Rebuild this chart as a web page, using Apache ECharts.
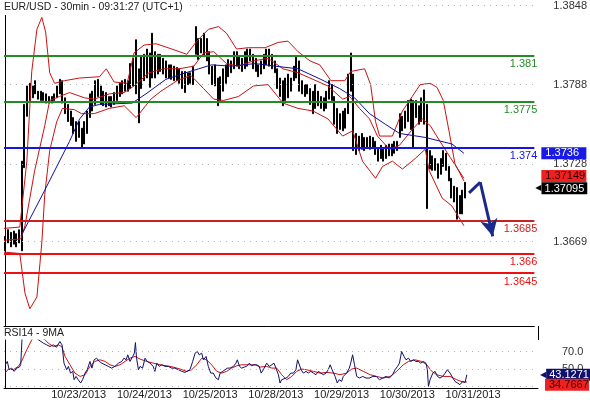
<!DOCTYPE html>
<html>
<head>
<meta charset="utf-8">
<title>EUR/USD 30min</title>
<script src="https://cdn.jsdelivr.net/npm/echarts@6.0.0/dist/echarts.min.js"></script>
<style>
    html, body { margin: 0; padding: 0; background: #fff; }
    #chart { width: 590px; height: 400px; }
</style>
</head>
<body>
<div id="chart"></div>
<script>
    // trading days on the time axis (weekend is skipped), first bar at 08:00
    var tradingDays = ['10/22/2013', '10/23/2013', '10/24/2013', '10/25/2013', '10/28/2013', '10/29/2013', '10/30/2013', '10/31/2013', '11/01/2013'];
    var firstHour = 8;
    var slotCount = 195;

    // price bars (high / low), one per hour
    var barHigh = [
        1.3673, 1.3678, 1.3676, 1.3677, 1.3675, 1.3678, 1.3730, 1.3773, 1.3787, 1.3789,
        1.3787, 1.3791, 1.3783, 1.3783, 1.3782, 1.3781, 1.3779, 1.3779, 1.3781, 1.3787,
        1.3792, 1.3791, 1.3778, 1.3773, 1.3768, 1.3763, 1.3760, 1.3760, 1.3755, 1.3760,
        1.3768, 1.3781, 1.3783, 1.3791, 1.3792, 1.3787, 1.3783, 1.3782, 1.3779, 1.3779,
        1.3782, 1.3787, 1.3789, 1.3791, 1.3792, 1.3791, 1.3804, 1.3808, 1.3822, 1.3800,
        1.3810, 1.3811, 1.3815, 1.3812, 1.3827, 1.3813, 1.3811, 1.3811, 1.3808, 1.3806,
        1.3803, 1.3803, 1.3802, 1.3801, 1.3800, 1.3798, 1.3798, 1.3797, 1.3797, 1.3802,
        1.3832, 1.3823, 1.3823, 1.3827, 1.3823, 1.3813, 1.3802, 1.3803, 1.3793, 1.3794,
        1.3800, 1.3803, 1.3807, 1.3806, 1.3813, 1.3813, 1.3810, 1.3808, 1.3813, 1.3815,
        1.3815, 1.3811, 1.3808, 1.3803, 1.3806, 1.3811, 1.3815, 1.3815, 1.3811, 1.3806,
        1.3800, 1.3793, 1.3791, 1.3793, 1.3796, 1.3793, 1.3802, 1.3810, 1.3806, 1.3791,
        1.3788, 1.3788, 1.3785, 1.3783, 1.3788, 1.3783, 1.3779, 1.3778, 1.3783, 1.3791,
        1.3788, 1.3779, 1.3770, 1.3766, 1.3768, 1.3770, 1.3796, 1.3812, 1.3796, 1.3751,
        1.3749, 1.3751, 1.3748, 1.3748, 1.3749, 1.3748, 1.3745, 1.3740, 1.3742, 1.3740,
        1.3742, 1.3743, 1.3743, 1.3745, 1.3745, 1.3766, 1.3764, 1.3768, 1.3776, 1.3777,
        1.3776, 1.3776, 1.3772, 1.3778, 1.3784, 1.3773, 1.3738, 1.3734, 1.3732, 1.3728,
        1.3732, 1.3738, 1.3736, 1.3726, 1.3717, 1.3711, 1.3710, 1.3704, 1.3708, 1.3714
    ];
    var barLow = [
        1.3662, 1.3668, 1.3665, 1.3667, 1.3665, 1.3668, 1.3662, 1.3725, 1.3764, 1.3776,
        1.3778, 1.3781, 1.3777, 1.3776, 1.3776, 1.3774, 1.3774, 1.3774, 1.3776, 1.3778,
        1.3781, 1.3774, 1.3766, 1.3760, 1.3757, 1.3751, 1.3745, 1.3748, 1.3740, 1.3743,
        1.3751, 1.3763, 1.3768, 1.3773, 1.3779, 1.3773, 1.3772, 1.3771, 1.3772, 1.3771,
        1.3773, 1.3776, 1.3779, 1.3781, 1.3783, 1.3783, 1.3785, 1.3787, 1.3781, 1.3759,
        1.3785, 1.3791, 1.3793, 1.3786, 1.3793, 1.3793, 1.3796, 1.3798, 1.3796, 1.3793,
        1.3793, 1.3792, 1.3791, 1.3791, 1.3789, 1.3785, 1.3782, 1.3788, 1.3789, 1.3788,
        1.3811, 1.3807, 1.3812, 1.3810, 1.3806, 1.3796, 1.3788, 1.3787, 1.3772, 1.3776,
        1.3783, 1.3789, 1.3794, 1.3797, 1.3800, 1.3802, 1.3800, 1.3798, 1.3800, 1.3802,
        1.3806, 1.3800, 1.3798, 1.3794, 1.3796, 1.3800, 1.3803, 1.3802, 1.3800, 1.3797,
        1.3785, 1.3779, 1.3772, 1.3776, 1.3778, 1.3783, 1.3791, 1.3793, 1.3783, 1.3781,
        1.3779, 1.3781, 1.3773, 1.3766, 1.3770, 1.3772, 1.3770, 1.3768, 1.3770, 1.3777,
        1.3776, 1.3758, 1.3751, 1.3754, 1.3753, 1.3755, 1.3766, 1.3783, 1.3738, 1.3735,
        1.3738, 1.3739, 1.3738, 1.3740, 1.3739, 1.3740, 1.3735, 1.3730, 1.3732, 1.3730,
        1.3732, 1.3734, 1.3734, 1.3736, 1.3738, 1.3748, 1.3753, 1.3755, 1.3760, 1.3754,
        1.3740, 1.3763, 1.3758, 1.3760, 1.3758, 1.3694, 1.3724, 1.3723, 1.3723, 1.3717,
        1.3720, 1.3726, 1.3723, 1.3715, 1.3702, 1.3699, 1.3686, 1.3690, 1.3690, 1.3702
    ];

    // indicator lines, [bar index, value]
    var maLine = [[5.7, 1.3673], [14.5, 1.3708], [23.6, 1.3745], [27.3, 1.3762], [30.9, 1.3771], [34.6, 1.3773], [46.6, 1.3774], [51.7, 1.3781], [59.0, 1.3792], [66.3, 1.3797], [71.1, 1.3800], [75.8, 1.3803], [83.1, 1.3802], [91.9, 1.3804], [99.2, 1.3802], [107.6, 1.3800], [116.0, 1.3792], [122.9, 1.3785], [128.4, 1.3778], [133.9, 1.3766], [139.7, 1.3758], [144.9, 1.3751], [154.3, 1.3748], [164.2, 1.3743], [168.6, 1.3736]];
    var bandUpper = [[-0.5, 1.3679], [5.3, 1.3680], [7.9, 1.3730], [9.7, 1.3798], [11.6, 1.3830], [13.4, 1.3839], [14.8, 1.3828], [16.3, 1.3797], [18.1, 1.3789], [21.8, 1.3791], [27.3, 1.3793], [34.6, 1.3794], [37.1, 1.3800], [40.0, 1.3790], [44.8, 1.3789], [47.3, 1.3812], [51.0, 1.3818], [55.4, 1.3819], [61.2, 1.3815], [66.7, 1.3811], [70.4, 1.3821], [74.7, 1.3830], [78.4, 1.3832], [81.3, 1.3827], [85.0, 1.3815], [89.3, 1.3816], [95.5, 1.3816], [100.3, 1.3820], [103.9, 1.3821], [107.6, 1.3813], [112.0, 1.3806], [115.6, 1.3803], [119.7, 1.3791], [124.8, 1.3791], [127.0, 1.3798], [132.1, 1.3800], [134.3, 1.3788], [136.1, 1.3760], [137.6, 1.3749], [142.3, 1.3749], [146.0, 1.3768], [149.6, 1.3779], [152.5, 1.3788], [156.2, 1.3789], [158.7, 1.3786], [161.0, 1.3776], [163.1, 1.3753], [165.3, 1.3728], [168.6, 1.3715]];
    var bandMiddle = [[-0.5, 1.3670], [5.7, 1.3671], [7.2, 1.3681], [10.8, 1.3723], [14.5, 1.3757], [16.3, 1.3776], [19.9, 1.3779], [23.6, 1.3782], [29.1, 1.3778], [32.7, 1.3777], [38.2, 1.3781], [43.7, 1.3782], [47.3, 1.3787], [52.8, 1.3797], [58.3, 1.3800], [63.8, 1.3800], [69.3, 1.3802], [72.9, 1.3812], [76.6, 1.3813], [81.3, 1.3804], [85.7, 1.3802], [91.2, 1.3806], [96.6, 1.3808], [102.1, 1.3800], [107.6, 1.3797], [113.1, 1.3792], [118.6, 1.3787], [124.0, 1.3777], [126.6, 1.3779], [130.2, 1.3770], [133.9, 1.3762], [136.8, 1.3749], [141.2, 1.3739], [144.9, 1.3742], [149.6, 1.3754], [153.3, 1.3762], [156.2, 1.3757], [159.8, 1.3745], [163.5, 1.3733], [168.6, 1.3717]];
    var bandLower = [[-0.5, 1.3661], [5.3, 1.3660], [7.2, 1.3630], [9.0, 1.3618], [11.6, 1.3627], [13.4, 1.3668], [14.5, 1.3705], [16.3, 1.3738], [18.9, 1.3760], [21.0, 1.3770], [25.4, 1.3769], [28.0, 1.3766], [32.7, 1.3766], [38.2, 1.3770], [43.7, 1.3772], [48.1, 1.3763], [53.5, 1.3777], [57.2, 1.3783], [63.1, 1.3791], [68.2, 1.3795], [72.9, 1.3785], [76.6, 1.3777], [80.2, 1.3776], [85.7, 1.3779], [91.2, 1.3787], [96.6, 1.3788], [102.1, 1.3774], [107.6, 1.3770], [113.1, 1.3768], [118.6, 1.3762], [124.0, 1.3749], [127.7, 1.3753], [131.3, 1.3730], [136.1, 1.3717], [138.7, 1.3726], [142.3, 1.3730], [146.0, 1.3724], [150.7, 1.3732], [154.4, 1.3739], [155.8, 1.3723], [160.6, 1.3702], [164.2, 1.3696], [168.6, 1.3681]];

    // RSI(14) and its 9 period average
    var rsiLine = [[0, 54.7], [0.7, 58.6], [1.4, 48.9], [2.3, 50.8], [3.2, 47.0], [4.1, 50.8], [5.1, 52.0], [5.6, 54.7], [6.1, 86], [8, 90], [10, 91], [12, 84], [13.9, 79.9], [15.1, 77.9], [16.3, 76.0], [17.5, 77.9], [18.7, 75.2], [19.9, 81.8], [20.7, 77.9], [21.4, 56.6], [22.4, 48.9], [23.0, 52.8], [23.8, 45.0], [24.6, 47.0], [25.1, 37.3], [25.8, 41.1], [26.6, 37.3], [27.5, 33.4], [28.2, 37.3], [29.1, 45.0], [29.9, 48.9], [30.9, 58.6], [31.6, 50.8], [32.4, 60.5], [33.3, 62.4], [34.3, 58.6], [35.2, 56.6], [36.4, 54.7], [37.6, 52.8], [38.8, 50.8], [40.0, 52.8], [41.3, 56.6], [42.5, 58.6], [43.3, 62.4], [44.1, 60.5], [44.7, 66.3], [45.5, 58.6], [46.5, 64.4], [47.1, 68.3], [47.5, 80.6], [47.9, 62.4], [48.6, 48.9], [49.2, 52.8], [50.1, 50.8], [51.0, 62.4], [51.8, 58.6], [52.8, 56.6], [54.0, 52.8], [54.6, 47.0], [55.3, 56.6], [56.2, 52.8], [57.1, 54.7], [58.3, 52.8], [59.5, 52.8], [60.7, 50.8], [61.9, 50.8], [63.2, 48.9], [64.4, 47.0], [65.6, 45.8], [66.2, 45.0], [67.4, 48.9], [68.4, 58.6], [69.3, 68.3], [70.1, 70.2], [70.8, 66.3], [71.7, 68.3], [72.3, 60.5], [73.3, 64.4], [74.1, 52.8], [75.0, 45.0], [75.9, 45.0], [76.9, 39.2], [77.8, 37.3], [78.4, 45.0], [79.4, 47.0], [80.2, 48.9], [81.1, 50.8], [82.0, 50.8], [83.3, 52.8], [84.2, 56.6], [84.7, 60.5], [85.5, 52.8], [86.3, 50.8], [87.2, 52.0], [88.1, 52.8], [89.1, 56.6], [89.9, 53.5], [90.8, 54.7], [91.8, 54.7], [92.7, 52.8], [93.4, 45.0], [94.2, 48.9], [94.8, 47.0], [95.4, 56.6], [96.4, 52.8], [97.3, 54.7], [98.1, 56.6], [98.8, 50.8], [99.7, 43.1], [100.3, 33.4], [100.9, 37.3], [101.5, 35.3], [102.5, 39.2], [103.3, 41.1], [104.2, 45.0], [105.2, 45.0], [106.1, 48.9], [106.7, 60.5], [107.4, 58.6], [108.0, 48.9], [108.8, 45.0], [109.8, 47.0], [110.6, 45.0], [111.5, 47.0], [112.5, 45.0], [113.4, 43.1], [114.3, 47.0], [115.2, 45.0], [116.1, 43.1], [117.1, 45.0], [117.9, 48.9], [118.6, 54.7], [119.3, 48.9], [120.4, 41.1], [121.2, 33.4], [121.9, 37.3], [122.8, 35.3], [123.4, 41.1], [124.6, 45.0], [125.6, 50.8], [126.1, 56.6], [126.8, 66.3], [127.5, 54.7], [128.3, 41.1], [129.3, 39.2], [130.5, 41.1], [131.7, 39.2], [132.9, 39.2], [134.2, 41.1], [135.4, 41.1], [136.6, 37.3], [137.8, 39.2], [139.0, 41.1], [140.2, 39.2], [141.4, 43.1], [142.3, 48.9], [143.2, 52.8], [143.9, 56.6], [144.7, 70.2], [145.6, 64.4], [146.3, 60.5], [147.2, 62.4], [148.0, 58.6], [149.0, 60.5], [149.9, 58.6], [150.8, 58.6], [151.7, 56.6], [152.6, 58.6], [153.6, 56.6], [154.1, 48.9], [154.5, 29.5], [155.1, 37.3], [156.1, 45.0], [156.9, 47.0], [157.8, 41.1], [158.7, 39.2], [159.7, 41.1], [160.6, 45.0], [161.4, 48.9], [162.4, 45.0], [163.4, 39.2], [164.2, 35.3], [165.1, 33.4], [166.0, 31.5], [167.0, 35.3], [167.9, 34.2], [168.5, 43.1]];
    var rsiMa = [[0, 45.5], [1.1, 49.7], [2.9, 48.9], [4.7, 52.8], [5.9, 58.6], [7.8, 72.1], [9.6, 83.7], [11, 90], [13, 87], [14.5, 83.7], [15.7, 79.9], [17.5, 76.0], [19.3, 77.9], [20.6, 76.0], [21.8, 64.4], [23.6, 54.7], [25.4, 45.0], [27.3, 41.1], [29.1, 43.1], [30.9, 52.8], [32.7, 58.6], [34.6, 60.5], [36.4, 58.6], [38.2, 54.7], [40.0, 52.8], [41.9, 54.7], [43.7, 58.6], [45.5, 62.4], [47.3, 64.4], [49.2, 61.3], [51.6, 58.6], [54.0, 56.6], [56.5, 54.7], [58.9, 53.5], [61.3, 52.0], [63.8, 49.7], [66.2, 47.0], [68.0, 48.9], [69.9, 54.7], [71.7, 62.4], [73.5, 60.5], [75.3, 54.7], [77.2, 47.0], [79.0, 45.0], [80.8, 47.0], [82.6, 50.8], [84.5, 53.5], [86.3, 54.7], [88.7, 54.7], [91.2, 54.7], [93.0, 52.0], [95.4, 52.8], [97.3, 50.8], [99.1, 50.8], [100.9, 43.1], [102.7, 37.3], [104.6, 41.1], [106.4, 47.0], [108.2, 49.7], [110.0, 48.9], [112.5, 47.0], [114.9, 45.0], [117.3, 45.8], [119.8, 45.0], [122.2, 43.1], [124.6, 45.0], [126.5, 49.7], [128.3, 50.8], [130.7, 47.0], [133.2, 43.1], [135.6, 41.1], [138.0, 39.2], [140.5, 41.1], [142.9, 47.0], [145.3, 54.7], [147.2, 58.6], [149.6, 60.5], [152.0, 58.6], [153.9, 54.7], [155.7, 47.0], [157.5, 43.1], [159.9, 41.1], [162.4, 41.1], [164.8, 37.3], [167.3, 34.2], [168.5, 34.8]];

    // axis ticks, levels, projection and last values
    var priceTicks = [1.3669, 1.3728, 1.3788, 1.3848];
    var rsiTicks = [30, 50, 70];
    var rsiLabelTicks = [50, 70];
    var levelValues = [1.381, 1.3775, 1.374, 1.3685, 1.366, 1.3645];
    var projection = [[170.5, 1.3706], [174.6, 1.3714], [179.2, 1.3673]];
    var lastPrice = 1.37095;
    var lastUpper = 1.37149;
    var lastMa = 1.3736;
    var lastRsi = 43.1271;
    var lastRsiMa = 34.7667;

    var levelColors = ['#238c23', '#238c23', '#1414e6', '#cc2020', '#ee1010', '#ee1010'];
    var fontName = 'Liberation Sans, Arial, sans-serif';

    var timeSlots = [];
    for (var i = 0; i < slotCount; i++) {
        var h = i + firstHour;
        var hh = h % 24;
        timeSlots.push(tradingDays[Math.floor(h / 24)] + ' ' + (hh < 10 ? '0' : '') + hh + ':00');
    }
    var candles = barHigh.map(function (hi, k) {
        return [barLow[k], hi, barLow[k], hi];
    });
    var isDayStart = function (idx, val) {
        return val.slice(-5) === '00:00' && idx < barHigh.length;
    };
    var hiddenLine = {color: 'rgba(0,0,0,0)', width: 0};

    //数值框
    function valueBox(value, digits, bg, fg, pointer, shift, gap, boxWidth) {
        var txt = value.toFixed(digits);
        var label = {
            show: true, position: 'end', fontFamily: fontName, fontSize: 11
        };
        if (pointer) {
            label.distance = gap;
            label.formatter = function () { return '{p|\u25C0}{v|' + txt + '}'; };
            label.rich = {
                p: {color: bg, fontSize: 8, fontFamily: 'DejaVu Sans'},
                v: {backgroundColor: bg, color: fg, padding: [1, 3, 0, 3], fontSize: 11, fontFamily: fontName}
            };
        } else {
            label.distance = gap;
            label.formatter = txt;
            label.backgroundColor = bg;
            label.color = fg;
            label.padding = [1, 3, 0, 4];
            label.width = boxWidth;
        }
        if (shift) label.offset = [0, shift];
        return {yAxis: value, lineStyle: hiddenLine, label: label};
    }

    function curve(points, color, z) {
        return {
            type: 'line', xAxisIndex: 1, yAxisIndex: 0, data: points, symbol: 'none', z: z,
            silent: true, lineStyle: {color: color, width: 1}
        };
    }

    var chart = echarts.init(document.getElementById('chart'));
    var option = {
        animation: false,
        backgroundColor: '#fff',
        textStyle: {fontFamily: fontName},
        title: [{
            text: 'EUR/USD - 30min - 09:31:27 (UTC+1)', left: 2, top: 0, padding: [2, 4, 2, 2],
            backgroundColor: '#fff',
            textStyle: {fontSize: 10.5, fontWeight: 'normal', color: '#222', fontFamily: fontName}
        }, {
            text: 'RSI14 - 9MA', left: 2, top: 327, padding: [1, 2],
            textStyle: {fontSize: 10.5, fontWeight: 'normal', color: '#222', fontFamily: fontName}
        }],
        grid: [
            {left: 4, right: 52, top: 0, bottom: 74},
            {left: 4, right: 52, top: 340, bottom: 12}
        ],
        xAxis: [
            {type: 'category', gridIndex: 0, data: timeSlots, boundaryGap: true,
                axisLine: {lineStyle: {color: '#000'}}, axisTick: {show: false}, axisLabel: {show: false}},
            {type: 'value', gridIndex: 0, min: -0.5, max: slotCount - 0.5, show: false},
            {type: 'category', gridIndex: 1, data: timeSlots, boundaryGap: true,
                axisLine: {lineStyle: {color: '#000'}},
                axisTick: {interval: isDayStart, length: 5, lineStyle: {color: '#000'}},
                axisLabel: {
                    interval: isDayStart, align: 'left', margin: 1, padding: [0, 0, 0, 2],
                    color: '#222', fontSize: 11, fontFamily: fontName,
                    formatter: function (v) { return v.split(' ')[0]; }
                }},
            {type: 'value', gridIndex: 1, min: -0.5, max: slotCount - 0.5, show: false}
        ],
        yAxis: [
            {type: 'value', gridIndex: 0, position: 'right', min: 1.3605, max: 1.3851, scale: true,
                axisLine: {show: true, lineStyle: {color: '#000'}}, axisTick: {show: false},
                splitLine: {show: false},
                axisLabel: {customValues: priceTicks, margin: 19, color: '#333', fontSize: 11, fontFamily: fontName,
                    formatter: function (v) { return v.toFixed(4); }}},
            {type: 'value', gridIndex: 1, position: 'right', min: 27.6, max: 83.6,
                axisLine: {show: true, lineStyle: {color: '#000'}}, axisTick: {show: false},
                splitLine: {show: false},
                axisLabel: {customValues: rsiLabelTicks, margin: 24, color: '#333', fontSize: 11, fontFamily: fontName,
                    formatter: function (v) { return v.toFixed(1); }}}
        ],
        graphic: [{
            type: 'line', shape: {x1: 538.5, y1: 326, x2: 538.5, y2: 340},
            style: {stroke: '#000', lineWidth: 1}, silent: true
        }],
        series: [
            // dotted price grid
            {type: 'line', xAxisIndex: 1, yAxisIndex: 0, data: [], silent: true, z: 1,
                markLine: {symbol: 'none', silent: true, animation: false, precision: 6,
                    lineStyle: {color: '#b4b4b4', type: [1, 5], width: 1}, label: {show: false},
                    data: priceTicks.map(function (v) { return {yAxis: v}; })}},
            {
                type: 'candlestick', xAxisIndex: 0, yAxisIndex: 0, data: candles, barWidth: 1.5, z: 2,
                silent: true,
                itemStyle: {color: '#000', color0: '#000', borderColor: '#000', borderColor0: '#000', borderWidth: 1}
            },
            curve(bandUpper, '#cc1111', 3),
            curve(bandMiddle, '#cc1111', 3),
            curve(bandLower, '#cc1111', 3),
            curve(maLine, '#1010a0', 3),
            // support / resistance levels
            {type: 'line', xAxisIndex: 1, yAxisIndex: 0, data: [], silent: true, z: 4,
                markLine: {symbol: 'none', silent: true, animation: false, precision: 6,
                    data: levelValues.map(function (v, k) {
                        return {
                            yAxis: v,
                            lineStyle: {color: levelColors[k], width: 2, type: 'solid'},
                            label: {show: true, position: 'insideEndBottom', distance: [1, 3], offset: [4, 0],
                                formatter: String(v), color: levelColors[k], fontSize: 11, fontFamily: fontName}
                        };
                    })}},
            // projected move
            {type: 'line', xAxisIndex: 1, yAxisIndex: 0, data: [], silent: true, z: 5,
                markLine: {silent: true, animation: false, precision: 6, label: {show: false},
                    lineStyle: {color: '#1c2a87', width: 3, type: 'solid'},
                    data: [
                        [{coord: projection[0], symbol: 'none'}, {coord: projection[1], symbol: 'none'}],
                        [{coord: projection[1], symbol: 'none'}, {coord: projection[2], symbol: 'arrow', symbolSize: [13, 17]}]
                    ]}},
            // last value boxes on the price scale
            {type: 'line', xAxisIndex: 1, yAxisIndex: 0, data: [], silent: true, z: 6, clip: false,
                markLine: {symbol: 'none', silent: true, animation: false, precision: 6,
                    data: [
                        valueBox(lastMa, 4, '#1a1ae6', '#fff', false, 0, 7, 38),
                        valueBox(lastUpper, 5, '#ee2020', '#3a0000', false, -5, 7, 38),
                        valueBox(lastPrice, 5, '#000', '#fff', true, 0, 1)
                    ]}},
            // RSI panel
            {type: 'line', xAxisIndex: 3, yAxisIndex: 1, data: [], silent: true, z: 1,
                markLine: {symbol: 'none', silent: true, animation: false, precision: 4,
                    lineStyle: {color: '#b4b4b4', type: [1, 5], width: 1}, label: {show: false},
                    data: rsiTicks.map(function (v) { return {yAxis: v}; })}},
            {type: 'line', xAxisIndex: 3, yAxisIndex: 1, data: rsiMa, symbol: 'none', silent: true, z: 2,
                lineStyle: {color: '#cc1111', width: 1}},
            {type: 'line', xAxisIndex: 3, yAxisIndex: 1, data: rsiLine, symbol: 'none', silent: true, z: 3,
                lineStyle: {color: '#10106e', width: 1}},
            {type: 'line', xAxisIndex: 3, yAxisIndex: 1, data: [], silent: true, z: 6, clip: false,
                markLine: {symbol: 'none', silent: true, animation: false, precision: 6,
                    data: [
                        valueBox(lastRsi, 4, '#10106e', '#fff', true, 0, 2),
                        valueBox(lastRsiMa, 4, '#ee2020', '#3a0000', false, 3, 7, 37)
                    ]}}
        ]
    };
    chart.setOption(option);
</script>
</body>
</html>
